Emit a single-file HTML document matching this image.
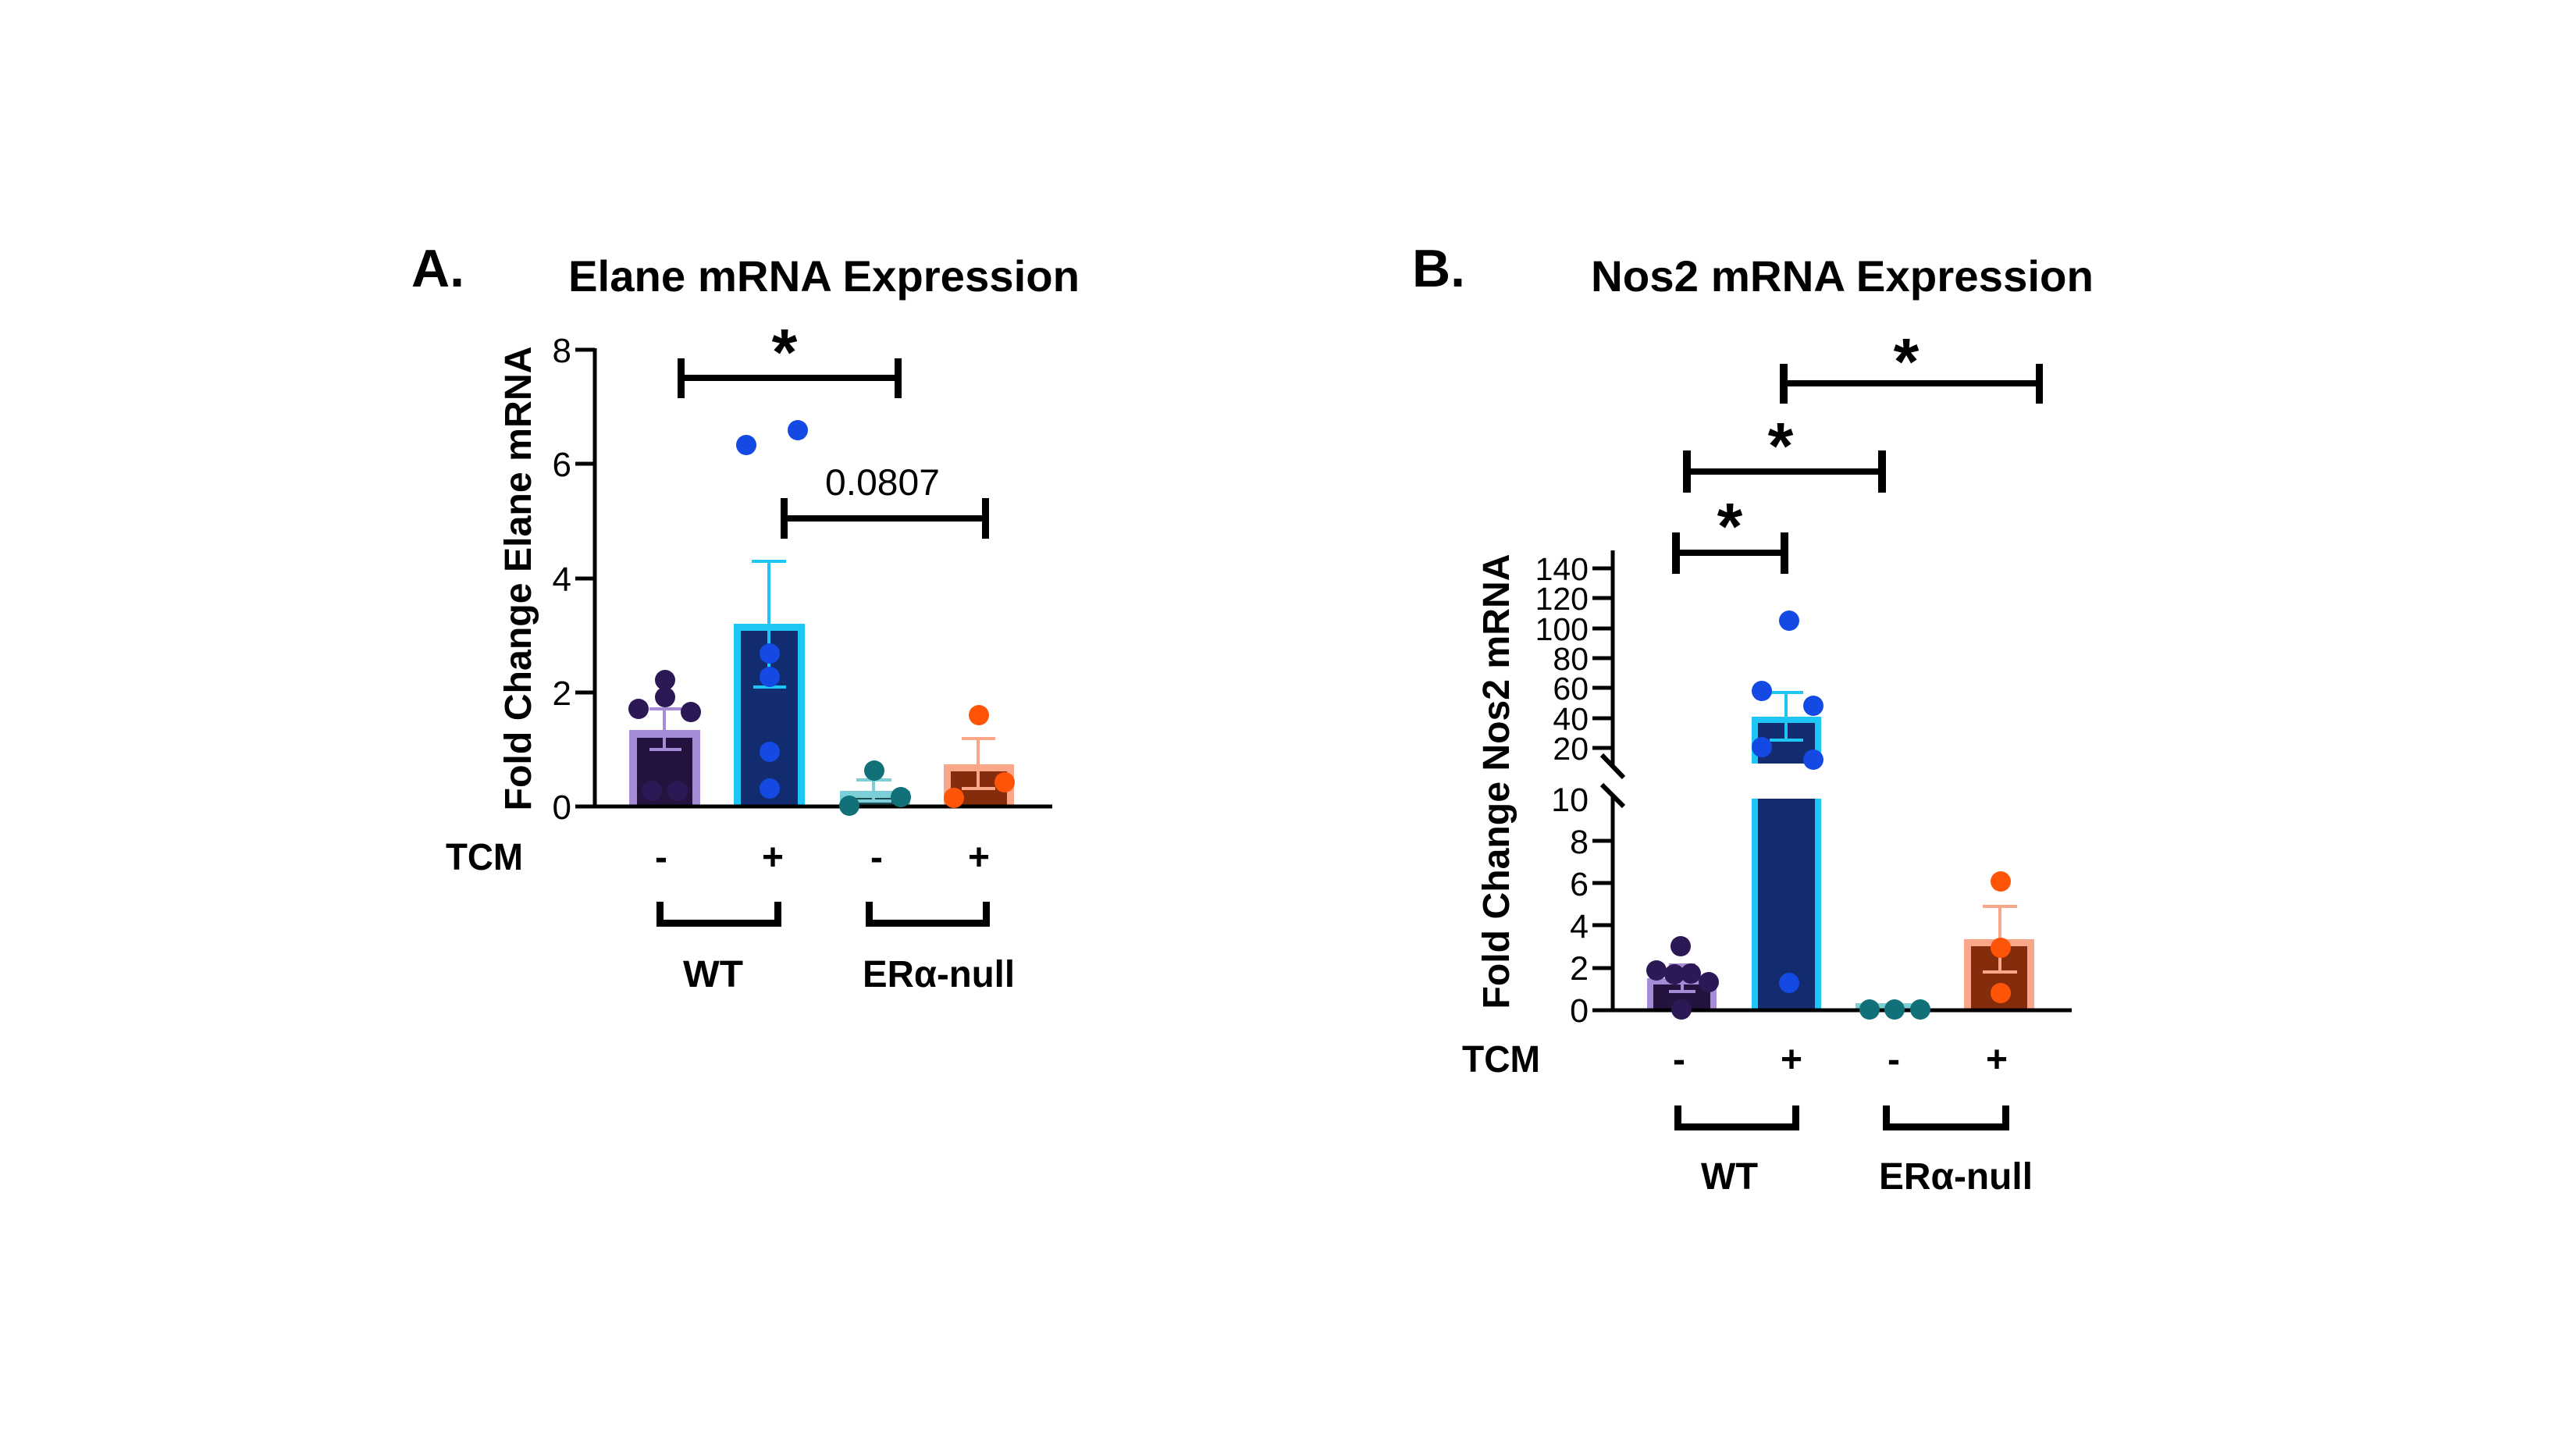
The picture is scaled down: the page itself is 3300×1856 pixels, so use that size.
<!DOCTYPE html>
<html>
<head>
<meta charset="utf-8">
<style>
  html,body{margin:0;padding:0;background:#ffffff;}
  svg{display:block;}
  text{font-family:"Liberation Sans", Arial, sans-serif;fill:#000;}
</style>
</head>
<body>
<svg width="3300" height="1856" viewBox="0 0 3300 1856" xmlns="http://www.w3.org/2000/svg">
<rect x="0" y="0" width="3300" height="1856" fill="#ffffff"/>

<!-- ================= PANEL A ================= -->
<text x="527" y="367" font-size="68" font-weight="bold">A.</text>
<text x="728" y="373" font-size="56" font-weight="bold" textLength="655" lengthAdjust="spacingAndGlyphs">Elane mRNA Expression</text>

<!-- y label -->
<text transform="translate(680,741) rotate(-90)" x="0" y="0" font-size="48" font-weight="bold" text-anchor="middle" textLength="595" lengthAdjust="spacingAndGlyphs">Fold Change Elane mRNA</text>

<!-- bars A -->
<rect x="806" y="935" width="91" height="97" fill="#a68bd6"/>
<rect x="816" y="945" width="71" height="87" fill="#24133f"/>

<rect x="940" y="799" width="91" height="233" fill="#1ec6f6"/>
<rect x="949" y="808" width="73" height="224" fill="#122c6f"/>

<rect x="1076" y="1013" width="90" height="19" fill="#7ccfd6"/>
<rect x="1085" y="1022" width="72" height="10" fill="#1d4d52"/>

<rect x="1209" y="979" width="90" height="53" fill="#f9a689"/>
<rect x="1218" y="988" width="72" height="44" fill="#842c0c"/>

<!-- axes A -->
<g stroke="#000" stroke-width="5" fill="none">
  <line x1="762" y1="446" x2="762" y2="1035"/>
  <line x1="737" y1="1033" x2="1348" y2="1033"/>
  <line x1="737" y1="448" x2="762" y2="448"/>
  <line x1="737" y1="594" x2="762" y2="594"/>
  <line x1="737" y1="741" x2="762" y2="741"/>
  <line x1="737" y1="887" x2="762" y2="887"/>
</g>
<g font-size="44" text-anchor="end">
  <text x="732" y="464">8</text>
  <text x="732" y="610">6</text>
  <text x="732" y="757">4</text>
  <text x="732" y="903">2</text>
  <text x="732" y="1049">0</text>
</g>

<!-- error bars A -->
<g stroke-width="4" fill="none">
  <path d="M851 908 V960 M832 908 H873 M832 960 H873" stroke="#a68bd6"/>
  <path d="M985 719 V880 M963 719 H1007 M965 880 H1007" stroke="#1ec6f6"/>
  <path d="M1119 999 V1026 M1097 999 H1142 M1097 1026 H1142" stroke="#7ccfd6"/>
  <path d="M1253 946 V1010 M1232 946 H1275 M1232 1010 H1275" stroke="#f9a689"/>
</g>

<!-- dots A -->
<g fill="#2d1856">
  <circle cx="852" cy="871" r="13"/>
  <circle cx="852" cy="893" r="13"/>
  <circle cx="818" cy="908" r="13"/>
  <circle cx="885" cy="912" r="13"/>
  <circle cx="835" cy="1013" r="13"/>
  <circle cx="868" cy="1013" r="13"/>
</g>
<g fill="#1449e3">
  <circle cx="956" cy="570" r="13"/>
  <circle cx="1022" cy="551" r="13"/>
  <circle cx="986" cy="837" r="13"/>
  <circle cx="986" cy="867" r="13"/>
  <circle cx="986" cy="963" r="13"/>
  <circle cx="986" cy="1010" r="13"/>
</g>
<g fill="#127078">
  <circle cx="1120" cy="987" r="13"/>
  <circle cx="1088" cy="1032" r="13"/>
  <circle cx="1154" cy="1021" r="13"/>
</g>
<g fill="#fd5408">
  <circle cx="1254" cy="916" r="13"/>
  <circle cx="1222" cy="1022" r="13"/>
  <circle cx="1287" cy="1002" r="13"/>
</g>

<!-- significance A -->
<g fill="#000">
  <rect x="868" y="480" width="287" height="8"/>
  <rect x="868" y="459" width="9" height="51"/>
  <rect x="1146" y="459" width="9" height="51"/>
  <rect x="1000" y="660" width="267" height="8"/>
  <rect x="1000" y="638" width="9" height="52"/>
  <rect x="1258" y="638" width="9" height="52"/>
</g>
<text x="1005" y="480" font-size="84" font-weight="bold" text-anchor="middle">*</text>
<text x="1057" y="634" font-size="47" textLength="147" lengthAdjust="spacingAndGlyphs">0.0807</text>

<!-- x categories A -->
<text x="571" y="1114" font-size="48" font-weight="bold" textLength="99" lengthAdjust="spacingAndGlyphs">TCM</text>
<g font-size="48" font-weight="bold" text-anchor="middle">
  <text x="847" y="1114">-</text>
  <text x="990" y="1114">+</text>
  <text x="1123" y="1114">-</text>
  <text x="1254" y="1114">+</text>
</g>
<g fill="#000">
  <rect x="841" y="1155" width="9" height="32"/>
  <rect x="841" y="1178" width="160" height="9"/>
  <rect x="992" y="1155" width="9" height="32"/>
  <rect x="1109" y="1155" width="9" height="32"/>
  <rect x="1109" y="1178" width="159" height="9"/>
  <rect x="1259" y="1155" width="9" height="32"/>
</g>
<text x="875" y="1264" font-size="48" font-weight="bold" textLength="77" lengthAdjust="spacingAndGlyphs">WT</text>
<text x="1105" y="1264" font-size="48" font-weight="bold" textLength="195" lengthAdjust="spacingAndGlyphs">ERα-null</text>

<!-- ================= PANEL B ================= -->
<text x="1809" y="367" font-size="68" font-weight="bold">B.</text>
<text x="2038" y="373" font-size="56" font-weight="bold" textLength="644" lengthAdjust="spacingAndGlyphs">Nos2 mRNA Expression</text>

<text transform="translate(1933,1001) rotate(-90)" x="0" y="0" font-size="48" font-weight="bold" text-anchor="middle" textLength="583" lengthAdjust="spacingAndGlyphs">Fold Change Nos2 mRNA</text>

<!-- bars B -->
<rect x="2110" y="1253" width="89" height="39" fill="#a68bd6"/>
<rect x="2118" y="1261" width="73" height="31" fill="#24133f"/>

<rect x="2244" y="1023" width="89" height="269" fill="#1ec6f6"/>
<rect x="2252" y="1023" width="73" height="269" fill="#122c6f"/>
<rect x="2244" y="918" width="89" height="60" fill="#1ec6f6"/>
<rect x="2252" y="926" width="73" height="52" fill="#122c6f"/>

<rect x="2377" y="1285" width="94" height="8" fill="#7ccfd6"/>

<rect x="2516" y="1203" width="90" height="89" fill="#f9a689"/>
<rect x="2525" y="1212" width="72" height="80" fill="#842c0c"/>

<!-- axes B -->
<g stroke="#000" stroke-width="5" fill="none">
  <line x1="2066" y1="705" x2="2066" y2="981"/>
  <line x1="2066" y1="1019" x2="2066" y2="1296"/>
  <line x1="2040" y1="1294" x2="2654" y2="1294"/>
  <line x1="2052" y1="967" x2="2080" y2="996" stroke-width="6"/>
  <line x1="2052" y1="1005" x2="2080" y2="1033" stroke-width="6"/>
  <line x1="2040" y1="728" x2="2066" y2="728"/>
  <line x1="2040" y1="766" x2="2066" y2="766"/>
  <line x1="2040" y1="805" x2="2066" y2="805"/>
  <line x1="2040" y1="843" x2="2066" y2="843"/>
  <line x1="2040" y1="881" x2="2066" y2="881"/>
  <line x1="2040" y1="920" x2="2066" y2="920"/>
  <line x1="2040" y1="958" x2="2066" y2="958"/>
  <line x1="2040" y1="1077" x2="2066" y2="1077"/>
  <line x1="2040" y1="1131" x2="2066" y2="1131"/>
  <line x1="2040" y1="1185" x2="2066" y2="1185"/>
  <line x1="2040" y1="1240" x2="2066" y2="1240"/>
</g>
<g font-size="41" text-anchor="end">
  <text x="2035" y="743">140</text>
  <text x="2035" y="781">120</text>
  <text x="2035" y="820">100</text>
  <text x="2035" y="858">80</text>
  <text x="2035" y="896">60</text>
  <text x="2035" y="935">40</text>
  <text x="2035" y="973">20</text>
</g>
<g font-size="43" text-anchor="end">
  <text x="2035" y="1039">10</text>
  <text x="2035" y="1093">8</text>
  <text x="2035" y="1147">6</text>
  <text x="2035" y="1201">4</text>
  <text x="2035" y="1255">2</text>
  <text x="2035" y="1309">0</text>
</g>

<!-- error bars B -->
<g stroke-width="4" fill="none">
  <path d="M2155 1236 V1270 M2138 1236 H2172 M2138 1270 H2172" stroke="#a68bd6"/>
  <path d="M2288 887 V948 M2267 887 H2310 M2267 948 H2310" stroke="#1ec6f6"/>
  <path d="M2562 1161 V1245 M2540 1161 H2584 M2540 1245 H2584" stroke="#f9a689"/>
</g>

<!-- dots B -->
<g fill="#2d1856">
  <circle cx="2153" cy="1212" r="13"/>
  <circle cx="2122" cy="1243" r="13"/>
  <circle cx="2145" cy="1248" r="13"/>
  <circle cx="2166" cy="1247" r="13"/>
  <circle cx="2189" cy="1258" r="13"/>
  <circle cx="2154" cy="1293" r="13"/>
</g>
<g fill="#1449e3">
  <circle cx="2292" cy="795" r="13"/>
  <circle cx="2257" cy="885" r="13"/>
  <circle cx="2323" cy="904" r="13"/>
  <circle cx="2257" cy="957" r="13"/>
  <circle cx="2323" cy="973" r="13"/>
  <circle cx="2292" cy="1259" r="13"/>
</g>
<g fill="#127078">
  <circle cx="2395" cy="1293" r="13"/>
  <circle cx="2427" cy="1293" r="13"/>
  <circle cx="2460" cy="1293" r="13"/>
</g>
<g fill="#fd5408">
  <circle cx="2563" cy="1129" r="13"/>
  <circle cx="2563" cy="1214" r="13"/>
  <circle cx="2563" cy="1272" r="13"/>
</g>

<!-- significance B -->
<g fill="#000">
  <rect x="2280" y="487" width="337" height="8"/>
  <rect x="2280" y="466" width="10" height="51"/>
  <rect x="2608" y="466" width="9" height="51"/>
  <rect x="2156" y="600" width="260" height="8"/>
  <rect x="2156" y="577" width="10" height="54"/>
  <rect x="2406" y="577" width="10" height="54"/>
  <rect x="2142" y="704" width="149" height="8"/>
  <rect x="2142" y="682" width="10" height="53"/>
  <rect x="2281" y="682" width="10" height="53"/>
</g>
<g font-size="84" font-weight="bold" text-anchor="middle">
  <text x="2442" y="492">*</text>
  <text x="2281" y="600">*</text>
  <text x="2216" y="703">*</text>
</g>

<!-- x categories B -->
<text x="1873" y="1373" font-size="48" font-weight="bold" textLength="100" lengthAdjust="spacingAndGlyphs">TCM</text>
<g font-size="48" font-weight="bold" text-anchor="middle">
  <text x="2151" y="1373">-</text>
  <text x="2295" y="1373">+</text>
  <text x="2426" y="1373">-</text>
  <text x="2558" y="1373">+</text>
</g>
<g fill="#000">
  <rect x="2145" y="1416" width="9" height="32"/>
  <rect x="2145" y="1439" width="160" height="9"/>
  <rect x="2296" y="1416" width="9" height="32"/>
  <rect x="2412" y="1416" width="9" height="32"/>
  <rect x="2412" y="1439" width="162" height="9"/>
  <rect x="2565" y="1416" width="9" height="32"/>
</g>
<text x="2179" y="1523" font-size="48" font-weight="bold" textLength="73" lengthAdjust="spacingAndGlyphs">WT</text>
<text x="2407" y="1523" font-size="48" font-weight="bold" textLength="197" lengthAdjust="spacingAndGlyphs">ERα-null</text>

</svg>
</body>
</html>
